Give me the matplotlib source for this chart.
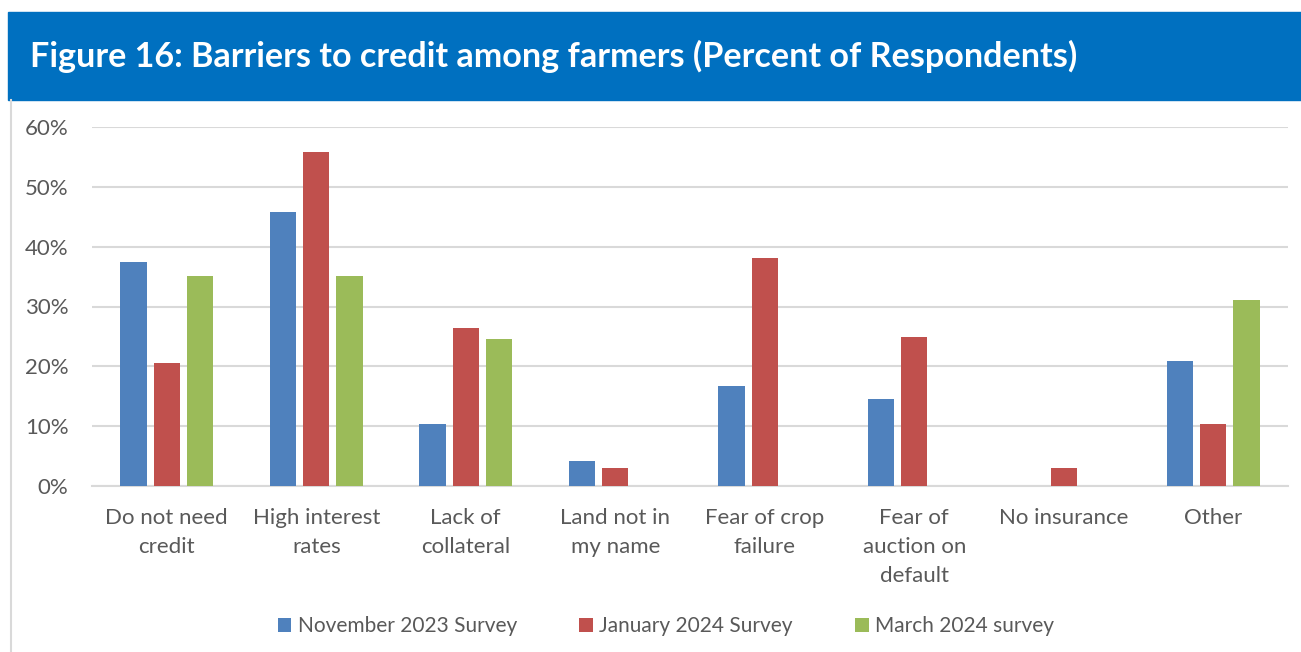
import numpy as np
import matplotlib
matplotlib.use("Agg")
import matplotlib.pyplot as plt
from matplotlib.patches import Rectangle
from matplotlib.ticker import PercentFormatter

categories = [
    "Do not need\ncredit",
    "High interest\nrates",
    "Lack of\ncollateral",
    "Land not in\nmy name",
    "Fear of crop\nfailure",
    "Fear of\nauction on\ndefault",
    "No insurance",
    "Other",
]
nov_2023 = [37.5, 45.8, 10.4, 4.2, 16.7, 14.5, 0.0, 20.9]
jan_2024 = [20.6, 55.9, 26.4, 3.0, 38.1, 24.9, 3.0, 10.4]
mar_2024 = [35.1, 35.1, 24.6, 0.0, 0.0, 0.0, 0.0, 31.1]
series_names = ["November 2023 Survey", "January 2024 Survey", "March 2024 survey"]
colors = ["#4F81BD", "#C0504D", "#9BBB59"]

plt.rcParams["font.family"] = ["Lato", "DejaVu Sans"]
TEXT = "#595959"

fig = plt.figure(figsize=(13.01, 6.52), dpi=100)

# title banner and thin left frame line
fig.patches.append(Rectangle((8 / 1301, 1 - 100 / 652), 1, 88 / 652,
                             transform=fig.transFigure, color="#0070C0", zorder=0))
fig.add_artist(plt.Line2D([11 / 1301, 11 / 1301], [0, 1 - 100 / 652],
                          transform=fig.transFigure, color="#D9D9D9", lw=1.5))
fig.text(30 / 1301, 1 - 56 / 652,
         "Figure 16: Barriers to credit among farmers (Percent of Respondents)",
         color="white", fontsize=24.6, fontweight="bold", va="center", ha="left")

ax = fig.add_axes([92 / 1301, 1 - 486 / 652, 1196 / 1301, 359 / 652])
x = np.arange(len(categories))
width = 0.175
step = 0.222
for i, (vals, name, c) in enumerate(zip([nov_2023, jan_2024, mar_2024], series_names, colors)):
    ax.bar(x + (i - 1) * step, vals, width, color=c, label=name, zorder=3)

ax.set_xlim(-0.5, len(categories) - 0.5)
ax.set_ylim(0, 60)
ax.set_yticks(np.arange(0, 61, 10))
ax.yaxis.set_major_formatter(PercentFormatter(decimals=0))
ax.grid(axis="y", color="#D9D9D9", lw=1.5, zorder=0)
for s in ["top", "right", "left"]:
    ax.spines[s].set_visible(False)
ax.spines["bottom"].set_color("#D9D9D9")
ax.spines["bottom"].set_linewidth(1.5)
ax.set_xticks(x)
ax.set_xticklabels(categories, linespacing=1.55)
ax.tick_params(axis="both", length=0, colors=TEXT, labelsize=16)
ax.tick_params(axis="y", pad=17)
ax.tick_params(axis="x", pad=16)

handles, labels = ax.get_legend_handles_labels()
fig.legend(handles, labels, loc="center", bbox_to_anchor=(666 / 1301, 1 - 626 / 652),
           ncol=3, frameon=False, fontsize=15, handlelength=0.65, handleheight=0.65,
           handletextpad=0.3, columnspacing=3.0, labelcolor=TEXT)

fig.savefig("out.png", dpi=100)
